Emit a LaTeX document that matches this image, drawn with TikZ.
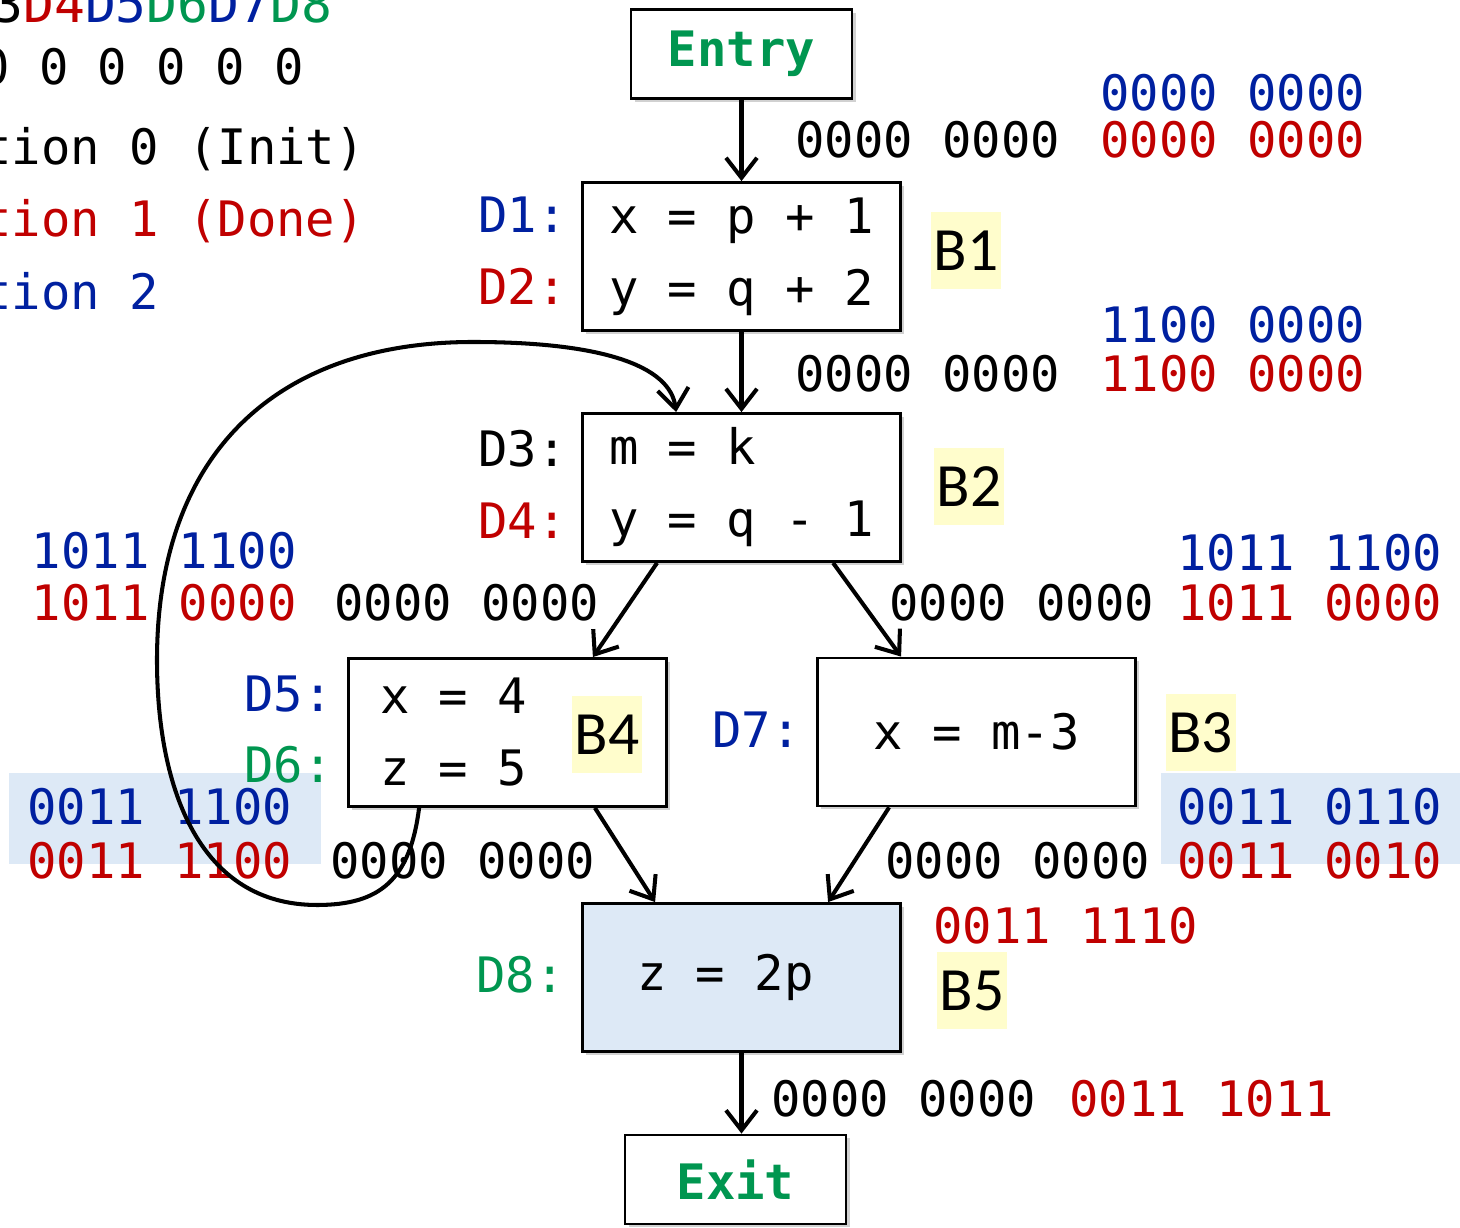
\documentclass[tikz,border=0pt]{standalone}
\usepackage{fontspec}
\usepackage{xcolor}
\usepackage{tikz}
\usetikzlibrary{positioning,calc,arrows.meta,shadows}

\newfontfamily\monofont{DejaVu Sans Mono}
\newfontfamily\tagfont{Carlito}
\newcommand{\codesize}{\monofont\fontsize{27.8pt}{41pt}\selectfont}
\newcommand{\tagsize}{\tagfont\fontsize{35pt}{35pt}\selectfont}

\definecolor{dblue}{RGB}{0,32,160}
\definecolor{dred}{RGB}{192,0,0}
\definecolor{dgreen}{RGB}{0,150,80}
\definecolor{hlyellow}{RGB}{255,253,204}
\definecolor{bbblue}{RGB}{221,233,246}

\begin{document}
\begin{tikzpicture}[
  blk/.style={draw, line width=1.6pt, fill=white, minimum width=6.36cm, minimum height=2.96cm,
    align=left, font=\codesize, drop shadow={shadow xshift=0.07cm, shadow yshift=-0.07cm, opacity=0.3, fill=black!60}},
  term/.style={blk, minimum width=4.42cm, minimum height=1.78cm, text=dgreen, font=\codesize\bfseries},
  tag/.style={fill=hlyellow, minimum width=1.4cm, minimum height=1.54cm, inner sep=0pt, font=\tagsize},
  bits/.style={anchor=base west, inner sep=0pt, font=\codesize},
  flow/.style={line width=2.3pt, -{Straight Barb[length=0.4cm, width=0.62cm]}}
]
  \useasboundingbox (0,0) rectangle (29.2,24.56);
  \clip (0,0) rectangle (29.2,24.56);

  % Highlighted rows
  \fill[bbblue] (0.18,7.28) rectangle (6.42,9.10);
  \fill[bbblue] (23.22,7.28) rectangle (29.2,9.10);

  % Legend (cut at the left edge)
  \node[bits, font=\monofont\fontsize{29.2pt}{30pt}\selectfont] (defrow) at (-0.16,24.10)
    {3\textcolor{dred}{D4}\textcolor{dblue}{D5}\textcolor{dgreen}{D6}\textcolor{dblue}{D7}\textcolor{dgreen}{D8}};
  \node[bits] (initrow) at (-0.40,22.86) {0 0 0 0 0 0};
  \node[bits] (iter0) at (-0.36,21.26) {tion 0 (Init)};
  \node[bits, text=dred] (iter1) at (-0.36,19.82) {tion 1 (Done)};
  \node[bits, text=dblue] (iter2) at (-0.36,18.36) {tion 2};

  % Blocks
  \node[term] (entry) at (14.83,23.48) {Entry};
  \node[blk] (b1) at (14.83,19.43) {x = p + 1\\y = q + 2};
  \node[blk] (b2) at (14.83,14.81) {m = k\\y = q - 1};
  \node[blk, align=flush left, text width=5.1cm] (b4) at (10.15,9.91) {x = 4\\z = 5};
  \node[blk] (b3) at (19.53,9.92) {x = m-3};
  \node[blk, fill=bbblue, align=flush left, text width=4.18cm] (b5) at (14.83,5.01) {z = 2p};
  \node[term] (exit) at (14.71,0.97) {Exit};

  % Block names
  \node[tag] (tagB1) at (19.32,19.55) {B1};
  \node[tag] (tagB2) at (19.38,14.82) {B2};
  \node[tag] (tagB4) at (12.14,9.87) {B4};
  \node[tag] (tagB3) at (24.01,9.91) {B3};
  \node[tag] (tagB5) at (19.44,4.75) {B5};

  % Definitions
  \node[bits, text=dblue] (d1) at (9.56,19.90) {D1:};
  \node[bits, text=dred] (d2) at (9.56,18.46) {D2:};
  \node[bits] (d3) at (9.56,15.22) {D3:};
  \node[bits, text=dred] (d4) at (9.56,13.78) {D4:};
  \node[bits, text=dblue] (d5) at (4.88,10.32) {D5:};
  \node[bits, text=dgreen] (d6) at (4.88,8.90) {D6:};
  \node[bits, text=dblue] (d7) at (14.24,9.60) {D7:};
  \node[bits, text=dgreen] (d8) at (9.52,4.70) {D8:};

  % Bit vectors on the edges
  \node[bits] (entryB1) at (15.90,21.40) {0000 0000};
  \node[bits, text=dblue] (entryB1two) at (22.0,22.34) {0000 0000};
  \node[bits, text=dred] (entryB1one) at (22.0,21.40) {0000 0000};
  \node[bits] (b1B2) at (15.90,16.72) {0000 0000};
  \node[bits, text=dblue] (b1B2two) at (22.0,17.70) {1100 0000};
  \node[bits, text=dred] (b1B2one) at (22.0,16.72) {1100 0000};
  \node[bits, text=dblue] (b2B4two) at (0.63,13.18) {1011 1100};
  \node[bits, text=dred] (b2B4one) at (0.63,12.14) {1011 0000};
  \node[bits] (b2B4) at (6.68,12.14) {0000 0000};
  \node[bits] (b2B3) at (17.78,12.14) {0000 0000};
  \node[bits, text=dblue] (b2B3two) at (23.54,13.14) {1011 1100};
  \node[bits, text=dred] (b2B3one) at (23.54,12.14) {1011 0000};
  \node[bits, text=dblue] (b4B5two) at (0.54,8.06) {0011 1100};
  \node[bits, text=dred] (b4B5one) at (0.54,6.98) {0011 1100};
  \node[bits] (b4B5) at (6.60,6.98) {0000 0000};
  \node[bits] (b3B5) at (17.70,6.98) {0000 0000};
  \node[bits, text=dblue] (b3B5two) at (23.54,8.06) {0011 0110};
  \node[bits, text=dred] (b3B5one) at (23.54,6.98) {0011 0010};
  \node[bits, text=dred] (b5in) at (18.66,5.68) {0011 1110};
  \node[bits] (b5Exit) at (15.42,2.22) {0000 0000};
  \node[bits, text=dred] (b5Exitone) at (21.38,2.22) {0011 1011};

  % Edges
  \draw[flow] (entry) -- (b1);
  \draw[flow] (b1) -- (b2);
  \draw[flow] ($(b2.south west)+(1.52,0)$) -- ($(b4.north east)+(-1.5,0)$);
  \draw[flow] ($(b2.south west)+(5.04,0)$) -- ($(b3.north west)+(1.7,0)$);
  \draw[flow] ($(b4.south east)+(-1.46,0)$) -- ($(b5.north west)+(1.48,0)$);
  \draw[flow] ($(b3.south west)+(1.46,0)$) -- ($(b5.north west)+(4.94,0)$);
  \draw[flow] (b5.south) -- (b5.south |- exit.north);

  % Back edge B4 -> B2
  \draw[flow] ($(b4.south west)+(1.44,0)$) .. controls (8.2,6.96) and (7.6,6.46) .. (6.34,6.46)
    .. controls (4.0,6.46) and (3.14,8.76) .. (3.14,11.36)
    .. controls (3.14,15.56) and (5.6,17.72) .. (9.46,17.72)
    .. controls (12.0,17.72) and (13.4,17.26) .. ($(b2.north west)+(1.9,0)$);
\end{tikzpicture}
\end{document}
